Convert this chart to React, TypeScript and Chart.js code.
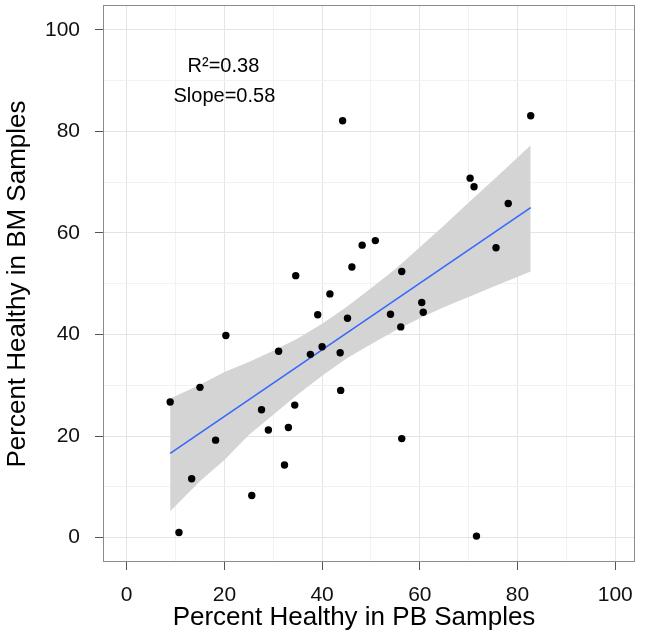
import React, { useEffect, useRef } from 'react';
import { Chart, registerables } from 'chart.js';

Chart.register(...registerables);

// Scatter data: percent healthy in PB (x) vs BM (y)
const pbPercent = [8.9, 10.7, 13.3, 15.0, 18.2, 20.3, 25.6, 27.6, 29.0, 31.1, 32.3, 33.1, 34.4, 34.6, 37.6, 39.1, 40.0, 41.6, 43.7, 43.8, 44.2, 45.2, 46.1, 48.2, 50.9, 54.0, 56.1, 56.3, 56.3, 60.4, 60.7, 70.3, 71.1, 71.6, 75.6, 78.1, 82.7];
const bmPercent = [26.7, 1.0, 11.6, 29.6, 19.2, 39.8, 8.3, 25.2, 21.2, 36.7, 14.3, 21.7, 26.1, 51.6, 36.1, 43.9, 37.6, 48.0, 36.4, 29.0, 82.1, 43.2, 53.3, 57.6, 58.5, 44.0, 41.5, 52.4, 19.5, 46.3, 44.4, 70.8, 69.1, 0.3, 57.1, 65.8, 83.1];

// Fitted line
const fitX = [8.9, 82.7];
const fitY = [16.6, 65.0];

// Confidence band edges
const bandX = [8.9, 15, 20, 25, 30, 35, 40, 45, 50, 55, 60, 65, 70, 75, 82.7];
const bandUpper = [27.4, 30.1, 32.6, 34.6, 36.8, 39.2, 42.1, 45.4, 49.1, 52.9, 57.2, 61.5, 66.0, 70.4, 77.3];
const bandLower = [5.2, 11.1, 15.3, 20.2, 24.2, 28.2, 31.9, 35.3, 38.1, 40.8, 43.2, 45.4, 47.4, 49.4, 52.4];

// Axes
const xTickValues = [0, 20, 40, 60, 80, 100];
const yTickValues = [0, 20, 40, 60, 80, 100];
const gridValues = [0, 10, 20, 30, 40, 50, 60, 70, 80, 90, 100];
const xTitle = 'Percent Healthy in PB Samples';
const yTitle = 'Percent Healthy in BM Samples';

// Annotations
const annotationTexts = ['R²=0.38', 'Slope=0.58'];
const annotationX = [19.8, 20];
const annotationY = [92.7, 86.8];

const FONT = "'Liberation Sans', Arial, Helvetica, sans-serif";

const zip = (xs: number[], ys: number[]) => xs.map((x, i) => ({ x, y: ys[i] }));

const panelPlugin = {
  id: 'panelDecor',
  afterDatasetsDraw(chart: any) {
    const { ctx, chartArea, scales } = chart;
    ctx.save();
    ctx.fillStyle = '#000';
    ctx.font = `20px ${FONT}`;
    ctx.textAlign = 'center';
    ctx.textBaseline = 'middle';
    annotationTexts.forEach((t, i) => {
      ctx.fillText(t, scales.x.getPixelForValue(annotationX[i]), scales.y.getPixelForValue(annotationY[i]));
    });
    ctx.strokeStyle = '#8c8c8c';
    ctx.lineWidth = 1;
    ctx.strokeRect(chartArea.left + 0.5, chartArea.top + 0.5, chartArea.right - chartArea.left - 1, chartArea.bottom - chartArea.top - 1);
    ctx.restore();
  },
  afterDraw(chart: any) {
    const { ctx } = chart;
    ctx.save();
    ctx.fillStyle = '#000';
    ctx.font = `26px ${FONT}`;
    ctx.textAlign = 'center';
    ctx.textBaseline = 'middle';
    ctx.fillText(xTitle, 354, 618);
    ctx.translate(18, 284);
    ctx.rotate(-Math.PI / 2);
    ctx.fillText(yTitle, 0, 0);
    ctx.restore();
  },
};

const gridColor = (ctx: any) => (ctx.tick && ctx.tick.value % 20 === 0 ? '#e4e4e4' : '#f2f2f2');
const tickColor = (ctx: any) => (ctx.tick && ctx.tick.value % 20 === 0 ? '#555555' : 'rgba(0,0,0,0)');

const zeroPad = (s: any) => {
  s.paddingTop = 0;
  s.paddingBottom = 0;
  s.paddingLeft = 0;
  s.paddingRight = 0;
};

export default function App() {
  const canvasRef = useRef<HTMLCanvasElement | null>(null);

  useEffect(() => {
    const canvas = canvasRef.current;
    if (!canvas) return;
    const chart = new Chart(canvas, {
      type: 'scatter',
      data: {
        datasets: [
          {
            type: 'scatter',
            label: 'Samples',
            data: zip(pbPercent, bmPercent),
            pointRadius: 3.7,
            pointBackgroundColor: '#000',
            pointBorderWidth: 0,
            borderColor: '#000',
          } as any,
          {
            type: 'line',
            label: 'Fit',
            data: zip(fitX, fitY),
            borderColor: '#3366FF',
            borderWidth: 1.5,
            pointRadius: 0,
            fill: false,
            tension: 0,
          } as any,
          {
            type: 'line',
            label: 'Upper',
            data: zip(bandX, bandUpper),
            borderWidth: 0,
            borderColor: 'rgba(0,0,0,0)',
            backgroundColor: '#d4d4d4',
            pointRadius: 0,
            fill: '+1',
            tension: 0,
          } as any,
          {
            type: 'line',
            label: 'Lower',
            data: zip(bandX, bandLower),
            borderWidth: 0,
            borderColor: 'rgba(0,0,0,0)',
            pointRadius: 0,
            fill: false,
            tension: 0,
          } as any,
        ],
      },
      options: {
        animation: false,
        responsive: false,
        events: [],
        layout: { padding: { left: 0, top: 5, right: 10, bottom: 0 } },
        plugins: { legend: { display: false }, tooltip: { enabled: false } },
        scales: {
          x: {
            type: 'linear',
            min: -4.85,
            max: 104.05,
            afterFit: (s: any) => { s.height = 75; zeroPad(s); },
            afterBuildTicks: (s: any) => { s.ticks = gridValues.map((v) => ({ value: v })); },
            border: { display: false },
            grid: { color: gridColor, tickColor, lineWidth: 1, tickLength: 8, drawTicks: true },
            ticks: {
              padding: 13,
              color: '#111',
              font: { family: FONT, size: 21 },
              callback: (v: any) => (xTickValues.includes(v) ? String(v) : ''),
              maxRotation: 0,
              autoSkip: false,
            },
            title: { display: false, text: xTitle },
          },
          y: {
            type: 'linear',
            min: -4.8,
            max: 104.9,
            afterFit: (s: any) => { s.width = 103; zeroPad(s); },
            afterBuildTicks: (s: any) => { s.ticks = gridValues.map((v) => ({ value: v })); },
            border: { display: false },
            grid: { color: gridColor, tickColor, lineWidth: 1, tickLength: 8, drawTicks: true },
            ticks: {
              padding: 15,
              color: '#111',
              font: { family: FONT, size: 21 },
              callback: (v: any) => (yTickValues.includes(v) ? String(v) : ''),
              autoSkip: false,
            },
            title: { display: false, text: yTitle },
          },
        },
      },
      plugins: [panelPlugin],
    });
    return () => chart.destroy();
  }, []);

  return (
    <div style={{ position: 'absolute', left: 0, top: 0, width: 645, height: 637, background: '#fff' }}>
      <canvas ref={canvasRef} width={645} height={637} style={{ display: 'block' }} />
    </div>
  );
}
